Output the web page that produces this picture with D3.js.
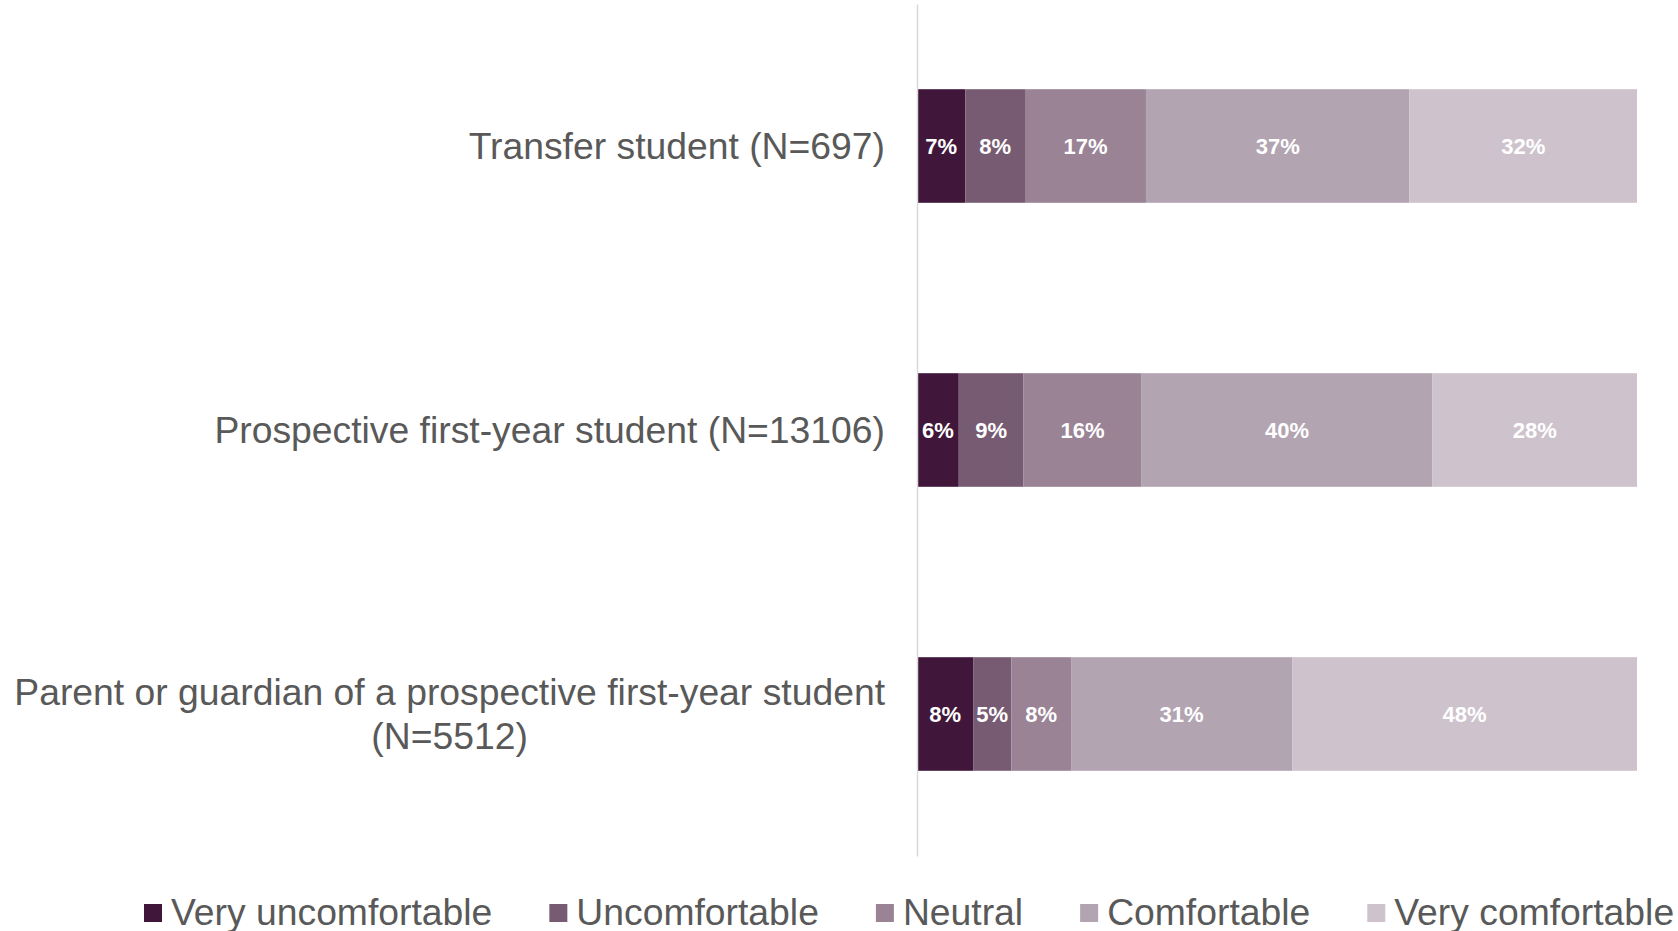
<!DOCTYPE html>
<html>
<head>
<meta charset="utf-8">
<script src="https://cdn.jsdelivr.net/npm/d3@7"></script>
<style>
	body { margin: 0; background: #fff; }
	text { font-family: "Liberation Sans", Arial, sans-serif; }
</style>
</head>
<body>
<script>
var w = 1678,
		h = 931;

// categories, top to bottom
var categories = [
	"Transfer student (N=697)",
	"Prospective first-year student (N=13106)",
	"Parent or guardian of a prospective first-year student (N=5512)"
];

var responses = ["Very uncomfortable", "Uncomfortable", "Neutral", "Comfortable", "Very comfortable"];

// shares per response, one row per category
var veryUncomfortable = [0.067, 0.058, 0.078];
var uncomfortable     = [0.083, 0.090, 0.053];
var neutral           = [0.168, 0.164, 0.083];
var comfortable       = [0.366, 0.404, 0.307];
var veryComfortable   = [0.316, 0.284, 0.479];

var colors = ["#40173a", "#775b73", "#9a8395", "#b3a4b2", "#cec3cd"];

var series = [veryUncomfortable, uncomfortable, neutral, comfortable, veryComfortable];

var rows = categories.map(function(c, i) {
	var r = { name: c };
	responses.forEach(function(k, j) { r[k] = series[j][i]; });
	return r;
});

var stacked = d3.stack().keys(responses)(rows);

var svg = d3.select('body').append('svg').attr("width", w).attr("height", h);

var x = d3.scaleLinear().domain([0, 1]).range([917, 1637]);
var y = d3.scaleBand().domain(categories).range([4, 856]).paddingInner(0.6).paddingOuter(0.3);
var color = d3.scaleOrdinal().domain(responses).range(colors);

// bars
var layer = svg.selectAll("g.layer").data(stacked).enter().append("g")
	.attr("class", "layer")
	.attr("fill", function(d) { return color(d.key); });

layer.selectAll("rect").data(function(d) { return d; }).enter().append("rect")
	.attr("x", function(d) { return x(d[0]); })
	.attr("y", function(d) { return y(d.data.name); })
	.attr("width", function(d) { return x(d[1]) - x(d[0]); })
	.attr("height", y.bandwidth());

// value labels
layer.selectAll("text").data(function(d) { return d; }).enter().append("text")
	.attr("x", function(d) { return (x(d[0]) + x(d[1])) / 2; })
	.attr("y", function(d) { return y(d.data.name) + y.bandwidth() / 2; })
	.attr("dy", "0.36em")
	.attr("text-anchor", "middle")
	.attr("fill", "#fff")
	.attr("font-weight", "bold")
	.attr("font-size", 22)
	.text(function(d) { return Math.round((d[1] - d[0]) * 100) + "%"; });

// vertical axis line
var axis = svg.append("g")
	.attr("transform", "translate(" + x(0) + ",0)")
	.call(d3.axisLeft(y).tickSize(0).tickFormat(""));
axis.select(".domain").attr("stroke", "#d9d9d9").attr("stroke-width", 1.5);

// category labels, wrapped, right aligned at labelRight
var labelRight = 885,
		maxLabelW = 900,
		lineH = 44,
		labelSize = 37.3;

categories.forEach(function(c) {
	var g = svg.append("g");
	var words = c.split(" ");
	var lines = [];
	var cur = [];
	var probe = g.append("text").attr("font-size", labelSize);
	words.forEach(function(wd) {
		var test = cur.concat([wd]).join(" ");
		probe.text(test);
		if (probe.node().getComputedTextLength() > maxLabelW && cur.length) {
			lines.push(cur.join(" "));
			cur = [wd];
		} else {
			cur.push(wd);
		}
	});
	lines.push(cur.join(" "));
	var widths = lines.map(function(l) { probe.text(l); return probe.node().getComputedTextLength(); });
	probe.remove();
	var blockW = d3.max(widths);
	var cy = y(c) + y.bandwidth() / 2;
	lines.forEach(function(l, i) {
		g.append("text")
			.attr("x", labelRight - blockW / 2)
			.attr("y", cy + (i - (lines.length - 1) / 2) * lineH)
			.attr("dy", "0.35em")
			.attr("text-anchor", "middle")
			.attr("font-size", labelSize)
			.attr("fill", "#595959")
			.text(l);
	});
});

// legend
var legend = svg.append("g");
var lx = 144;
responses.forEach(function(r) {
	var item = legend.append("g").attr("transform", "translate(" + lx + ",0)");
	item.append("rect")
		.attr("x", 0).attr("y", 904)
		.attr("width", 18).attr("height", 18)
		.attr("fill", color(r));
	var t = item.append("text")
		.attr("x", 27).attr("y", 925)
		.attr("font-size", 37.3)
		.attr("fill", "#595959")
		.text(r);
	lx += 27 + t.node().getComputedTextLength() + 57;
});
</script>
</body>
</html>
